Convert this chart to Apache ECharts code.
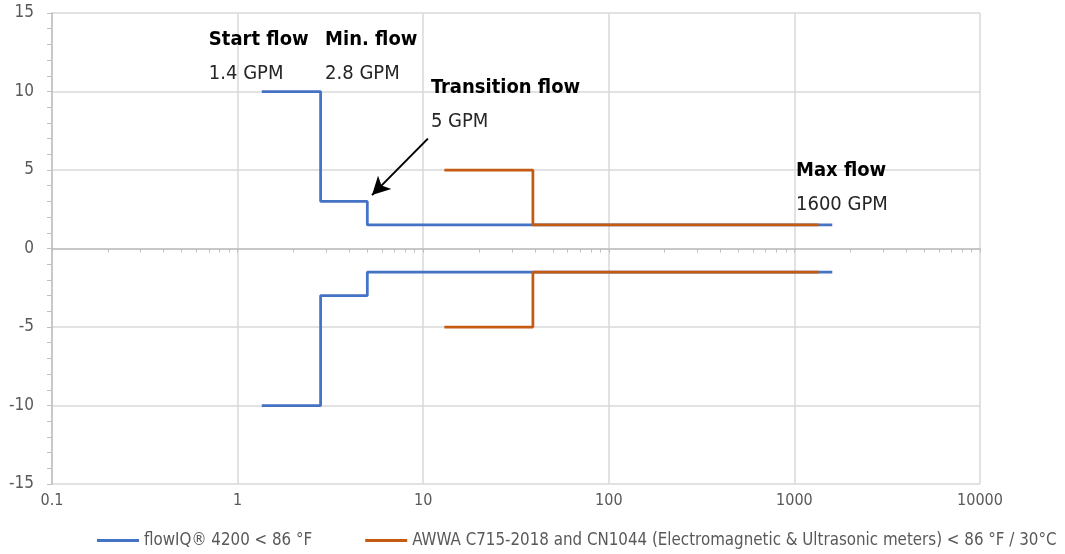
<!DOCTYPE html>
<html>
<head>
<meta charset="utf-8">
<script src="https://cdn.jsdelivr.net/npm/echarts@6/dist/echarts.min.js"></script>
<style>
html,body{margin:0;padding:0;background:#fff;}
#chart{width:1065px;height:554px;}
</style>
</head>
<body>
<div id="chart"></div>
<script>
// ---- data ----
const seriesNames = ['flowIQ® 4200 < 86 °F', 'AWWA C715-2018 and CN1044 (Electromagnetic & Ultrasonic meters) < 86 °F / 30°C'];
// flowIQ upper / lower envelope (x = flow GPM, y = error %)
const flowX = [1.35, 2.8, 5, 1600];
const flowUpper = [10, 3, 1.5, 1.5];
const flowLower = [-10, -3, -1.5, -1.5];
// AWWA upper / lower envelope
const awwaX = [13, 39, 1350];
const awwaUpper = [5, 1.5, 1.5];
const awwaLower = [-5, -1.5, -1.5];
// axis
const xTickLabels = [0.1, 1, 10, 100, 1000, 10000];
// annotations: [x, y(top), bold title, value]
const annotations = [
  [0.70, 14.4, 'Start flow', '1.4 GPM'],
  [2.96, 14.4, 'Min. flow', '2.8 GPM'],
  [11.0, 11.35, 'Transition flow', '5 GPM'],
  [1020, 6.05, 'Max flow', '1600 GPM']
];
const arrowFrom = [10.6, 7.0];
const arrowTo = [5.3, 3.4];

// ---- build ----
const FONT = "'Liberation Sans Narrow', 'DejaVu Sans Condensed', 'Roboto Condensed', sans-serif";
const minorX = [];
for (let i = 0; i < xTickLabels.length - 1; i++) {
  for (let m = 1; m <= 9; m++) minorX.push(+(xTickLabels[i] * m).toPrecision(3));
}
minorX.push(xTickLabels[xTickLabels.length - 1]);

const pairs = (xs, ys) => xs.map((x, i) => [x, ys[i]]);
const BLUE = '#4472C4', ORANGE = '#C55A11';

const lineSeries = (name, color, data, extra) => Object.assign({
  name: name, type: 'line', step: 'end', data: data, symbol: 'none',
  lineStyle: {color: color, width: 2.75}, itemStyle: {color: color},
  xAxisIndex: 0, yAxisIndex: 0, silent: true
}, extra || {});

const chart = echarts.init(document.getElementById('chart'), null, {renderer: 'canvas'});
chart.setOption({
  animation: false,
  backgroundColor: '#fff',
  grid: {left: 52, right: 85, top: 13, bottom: 70, containLabel: false},
  legend: {
    left: 97, top: 532, width: 1060, padding: 0, icon: 'rect', itemWidth: 42, itemHeight: 3, itemGap: 53,
    textStyle: {fontFamily: FONT, fontSize: 16.8, color: '#595959'},
    data: seriesNames
  },
  xAxis: [{
    type: 'log', logBase: 10, min: 0.1, max: 10000, position: 'bottom',
    axisLine: {show: false, onZero: false},
    axisTick: {show: false},
    axisLabel: {customValues: xTickLabels, fontFamily: FONT, fontSize: 16, color: '#595959', margin: 9,
      formatter: v => String(v)},
    splitLine: {show: true, lineStyle: {color: '#d9d9d9', width: 1.5}}
  }, {
    type: 'log', logBase: 10, min: 0.1, max: 10000, position: 'bottom',
    axisLine: {show: true, onZero: true, lineStyle: {color: '#bfbfbf', width: 1.5}},
    axisTick: {show: true, customValues: minorX, length: 4, lineStyle: {color: '#bfbfbf'}},
    axisLabel: {show: false},
    splitLine: {show: false}
  }],
  yAxis: {
    type: 'value', min: -15, max: 15, interval: 5,
    axisLine: {show: true, onZero: false, lineStyle: {color: '#bfbfbf', width: 1.5}},
    axisTick: {show: true, length: 5, lineStyle: {color: '#bfbfbf'}},
    minorTick: {show: true, splitNumber: 5, length: 5, lineStyle: {color: '#bfbfbf'}},
    axisLabel: {fontFamily: FONT, fontSize: 17, color: '#595959', margin: 18},
    splitLine: {show: true, lineStyle: {color: '#d9d9d9', width: 1.5}}
  },
  series: [
    lineSeries(seriesNames[0], BLUE, pairs(flowX, flowUpper), {
      markPoint: {
        symbol: 'rect', symbolSize: 0, silent: true,
        label: {
          show: true, position: [0, 0], align: 'left', verticalAlign: 'top',
          formatter: p => '{b|' + p.data.title + '}\n{n|' + p.data.sub + '}',
          rich: {
            b: {fontFamily: FONT, fontWeight: 'bold', fontSize: 20, color: '#000', lineHeight: 34},
            n: {fontFamily: FONT, fontSize: 20, color: '#262626', lineHeight: 34}
          }
        },
        data: annotations.map(a => ({coord: [a[0], a[1]], title: a[2], sub: a[3]}))
      },
      markLine: {
        silent: true, symbol: ['none', 'arrow'], symbolSize: [14, 18],
        lineStyle: {color: '#000', width: 2, type: 'solid'},
        label: {show: false},
        data: [[{coord: arrowFrom}, {coord: arrowTo}]]
      }
    }),
    lineSeries(seriesNames[0], BLUE, pairs(flowX, flowLower)),
    lineSeries(seriesNames[1], ORANGE, pairs(awwaX, awwaUpper)),
    lineSeries(seriesNames[1], ORANGE, pairs(awwaX, awwaLower))
  ]
});
</script>
</body>
</html>
